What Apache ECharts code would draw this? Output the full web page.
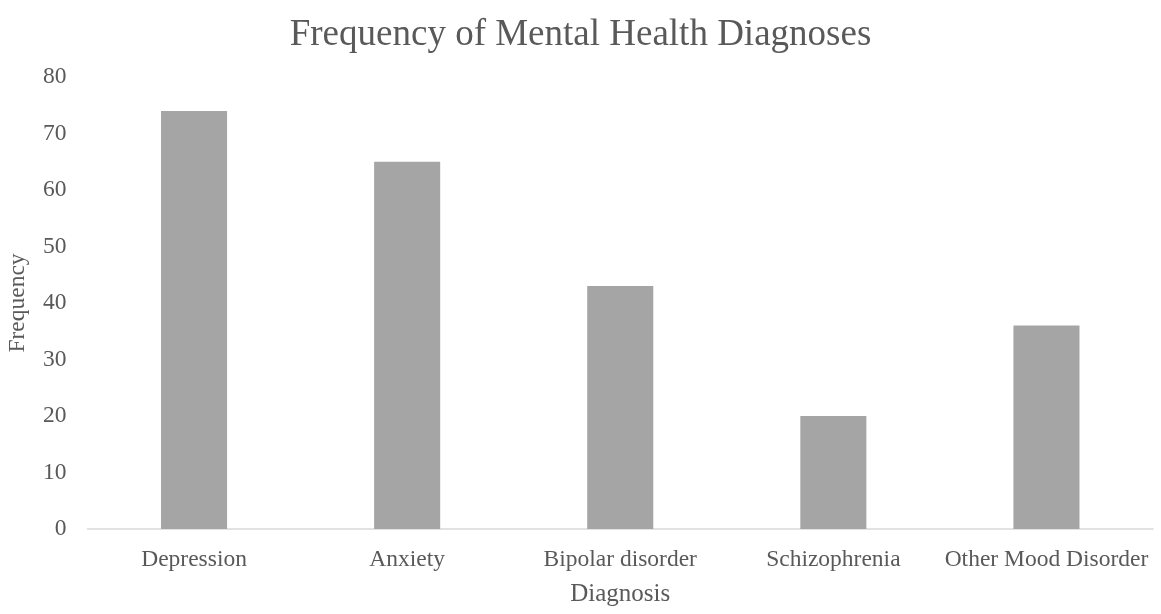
<!DOCTYPE html>
<html>
<head>
<meta charset="utf-8">
<script src="https://cdn.jsdelivr.net/npm/echarts@6/dist/echarts.min.js"></script>
<style>
  html, body { margin: 0; padding: 0; background: #fff; }
  #chart { width: 1161px; height: 614px; }
</style>
</head>
<body>
<div id="chart"></div>
<script>
// Diagnosis categories and their counts
const diagnoses = ['Depression', 'Anxiety', 'Bipolar disorder', 'Schizophrenia', 'Other Mood Disorder'];
const frequency = [74, 65, 43, 20, 36];

const FONT = '"Liberation Serif", "Times New Roman", serif';
const TEXT = '#595959';

const chart = echarts.init(document.getElementById('chart'));
chart.setOption({
  animation: false,
  textStyle: { fontFamily: FONT },
  title: {
    text: 'Frequency of Mental Health Diagnoses',
    left: 'center',
    top: 12,
    textStyle: { fontFamily: FONT, fontSize: 37, fontWeight: 'normal', color: TEXT }
  },
  grid: {
    left: 87.5, right: 8, top: 77, bottom: 85,
    containLabel: false,
    outerBoundsMode: 'none'
  },
  xAxis: {
    type: 'category',
    data: diagnoses,
    name: 'Diagnosis',
    nameLocation: 'middle',
    nameGap: 53,
    nameTextStyle: { fontFamily: FONT, fontSize: 25, color: TEXT },
    axisLine: { show: true, lineStyle: { color: '#D9D9D9', width: 1.5 } },
    axisTick: { show: false },
    axisLabel: { fontFamily: FONT, fontSize: 23.5, color: TEXT, margin: 19, interval: 0 }
  },
  yAxis: {
    type: 'value',
    min: 0,
    max: 80,
    interval: 10,
    name: 'Frequency',
    nameLocation: 'middle',
    nameGap: 58,
    nameTextStyle: { fontFamily: FONT, fontSize: 23.5, color: TEXT },
    axisLine: { show: false },
    axisTick: { show: false },
    splitLine: { show: false },
    axisLabel: { fontFamily: FONT, fontSize: 23.5, color: TEXT, margin: 21 }
  },
  series: [{
    type: 'bar',
    data: frequency,
    barCategoryGap: '69%',
    itemStyle: { color: '#A5A5A5' }
  }]
});
</script>
</body>
</html>
